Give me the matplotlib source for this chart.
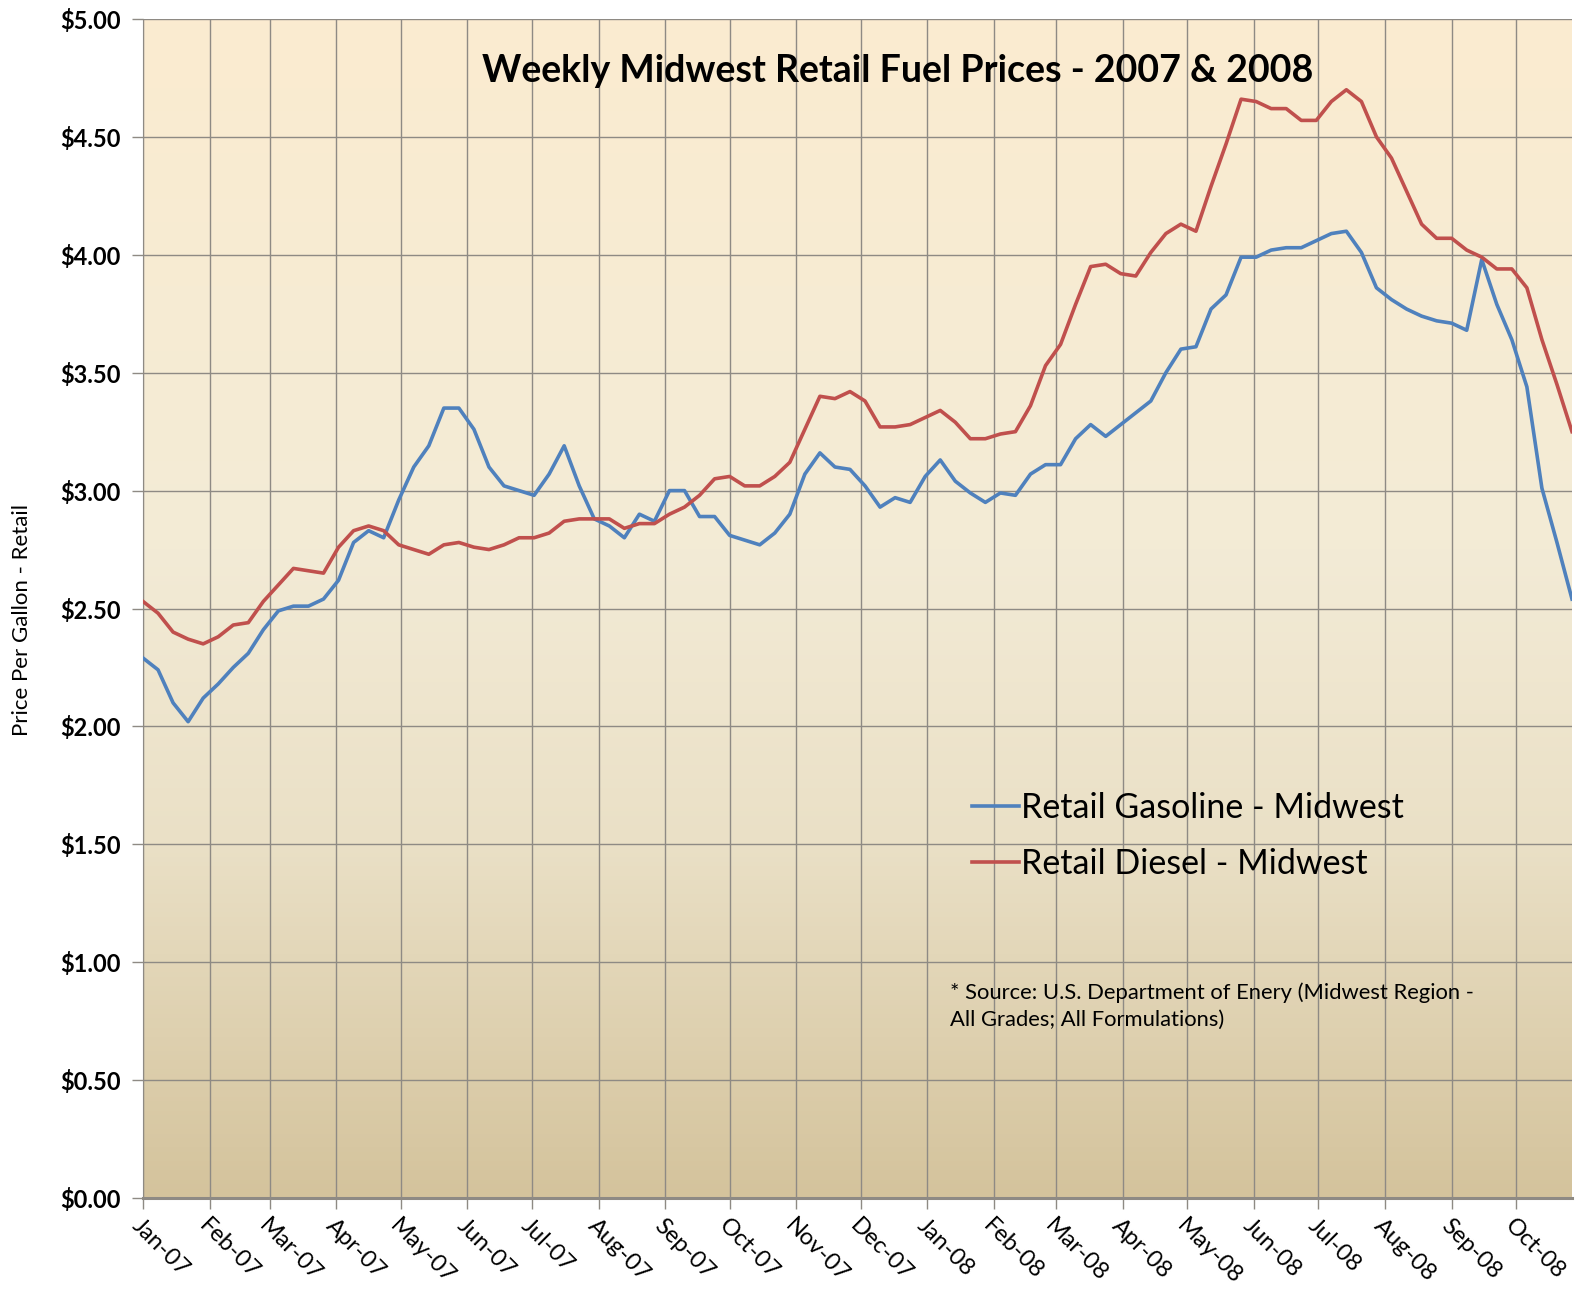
import numpy as np
import pandas as pd
import matplotlib
matplotlib.use("Agg")
import matplotlib.pyplot as plt
import matplotlib.dates as mdates
from matplotlib.colors import LinearSegmentedColormap
from matplotlib.ticker import FuncFormatter

# weekly prices, first Monday of 2007 onwards
start_week = "2007-01-01"
gasoline = [2.29, 2.24, 2.10, 2.02, 2.12, 2.18, 2.25, 2.31, 2.41, 2.49,
            2.51, 2.51, 2.54, 2.62, 2.78, 2.83, 2.80, 2.96, 3.10, 3.19,
            3.35, 3.35, 3.26, 3.10, 3.02, 3.00, 2.98, 3.07, 3.19, 3.02,
            2.88, 2.85, 2.80, 2.90, 2.87, 3.00, 3.00, 2.89, 2.89, 2.81,
            2.79, 2.77, 2.82, 2.90, 3.07, 3.16, 3.10, 3.09, 3.02, 2.93,
            2.97, 2.95, 3.06, 3.13, 3.04, 2.99, 2.95, 2.99, 2.98, 3.07,
            3.11, 3.11, 3.22, 3.28, 3.23, 3.28, 3.33, 3.38, 3.50, 3.60,
            3.61, 3.77, 3.83, 3.99, 3.99, 4.02, 4.03, 4.03, 4.06, 4.09,
            4.10, 4.01, 3.86, 3.81, 3.77, 3.74, 3.72, 3.71, 3.68, 3.98,
            3.79, 3.64, 3.44, 3.01, 2.78, 2.54]
diesel = [2.53, 2.48, 2.40, 2.37, 2.35, 2.38, 2.43, 2.44, 2.53, 2.60,
          2.67, 2.66, 2.65, 2.76, 2.83, 2.85, 2.83, 2.77, 2.75, 2.73,
          2.77, 2.78, 2.76, 2.75, 2.77, 2.80, 2.80, 2.82, 2.87, 2.88,
          2.88, 2.88, 2.84, 2.86, 2.86, 2.90, 2.93, 2.98, 3.05, 3.06,
          3.02, 3.02, 3.06, 3.12, 3.26, 3.40, 3.39, 3.42, 3.38, 3.27,
          3.27, 3.28, 3.31, 3.34, 3.29, 3.22, 3.22, 3.24, 3.25, 3.36,
          3.53, 3.62, 3.79, 3.95, 3.96, 3.92, 3.91, 4.01, 4.09, 4.13,
          4.10, 4.29, 4.47, 4.66, 4.65, 4.62, 4.62, 4.57, 4.57, 4.65,
          4.70, 4.65, 4.50, 4.41, 4.27, 4.13, 4.07, 4.07, 4.02, 3.99,
          3.94, 3.94, 3.86, 3.64, 3.45, 3.25]
price_ticks = [0.0, 0.5, 1.0, 1.5, 2.0, 2.5, 3.0, 3.5, 4.0, 4.5, 5.0]
series_names = ["Retail Gasoline - Midwest", "Retail Diesel - Midwest"]

weeks = pd.date_range(start_week, periods=len(gasoline), freq="7D")

plt.rcParams['font.family'] = ['Lato', 'DejaVu Sans']

fig = plt.figure(figsize=(15.75, 12.98), dpi=100)
pos = [143/1575, 100/1298, (1572-143)/1575, 1179/1298]

# gradient background behind the plot area
bg_ax = fig.add_axes(pos, zorder=0)
bg = LinearSegmentedColormap.from_list("bg", [(0, "#D4C39C"), (0.3, "#EAE0C6"),
                                              (0.55, "#F3EBD6"), (1, "#FBEBD0")])
bg_ax.imshow(np.linspace(0, 1, 256).reshape(-1, 1), cmap=bg, origin="lower",
             aspect="auto", extent=[0, 1, 0, 1])
bg_ax.axis("off")

ax = fig.add_axes(pos, zorder=1)
ax.set_facecolor("none")

ax.plot(weeks, gasoline, color="#4F81BD", lw=2.6, label=series_names[0], zorder=3)
ax.plot(weeks, diesel, color="#C0504D", lw=2.6, label=series_names[1], zorder=3)

ax.set_xlim(weeks[0], weeks[-1])
ax.set_ylim(0, 5)
ax.set_yticks(price_ticks)
ax.yaxis.set_major_formatter(FuncFormatter(lambda v, p: "${:.2f}".format(v)))
ax.xaxis.set_major_locator(mdates.MonthLocator())
ax.xaxis.set_major_formatter(mdates.DateFormatter("%b-%y"))

ax.grid(True, color="#8E8A84", lw=1.0)
ax.tick_params(axis="both", direction="out", length=8, color="#8E8A84", width=1.0)
ax.tick_params(axis="y", labelsize=17, pad=8)
ax.tick_params(axis="x", labelsize=17, pad=4)
for lab in ax.get_yticklabels():
    lab.set_fontweight("bold")
for lab in ax.get_xticklabels():
    lab.set_rotation(-45)
    lab.set_ha("left")
    lab.set_va("top")
    lab.set_rotation_mode("anchor")

for s in ["top", "right"]:
    ax.spines[s].set_visible(False)
ax.spines["left"].set_color("#8E8A84")
ax.spines["bottom"].set_color("#8E8A84")
ax.spines["bottom"].set_linewidth(2.2)

ax.text(0.528, 0.956, "Weekly Midwest Retail Fuel Prices - 2007 & 2008",
        transform=ax.transAxes, ha="center", va="center", fontsize=27, fontweight="bold")

fig.text(22/1575, 1 - 620/1298, "Price Per Gallon - Retail", rotation=90,
         ha="center", va="center", fontsize=16)

ax.legend(loc="center left", bbox_to_anchor=(0.58, 0.307), frameon=False,
          fontsize=24.5, handlelength=1.4, handletextpad=0.05, labelspacing=0.72,
          borderpad=0, borderaxespad=0)

ax.text(0.565, 0.1825, "* Source: U.S. Department of Enery (Midwest Region -\nAll Grades; All Formulations)",
        transform=ax.transAxes, ha="left", va="top", fontsize=15.8, linespacing=1.4)

fig.savefig("out.png", dpi=100)
